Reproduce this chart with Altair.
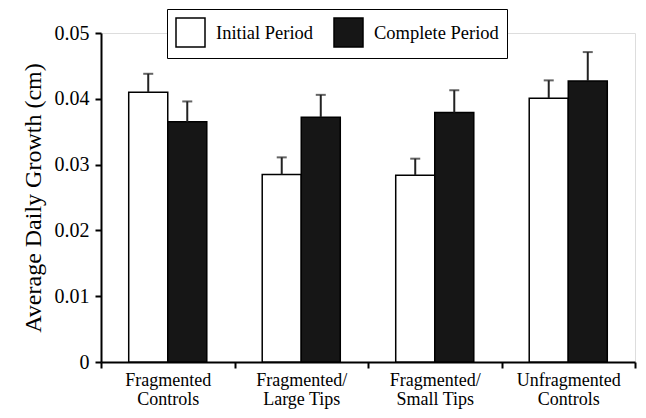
import altair as alt
import pandas as pd

groups = ["Fragmented\nControls", "Fragmented/\nLarge Tips", "Fragmented/\nSmall Tips", "Unfragmented\nControls"]
series = ["Initial Period", "Complete Period"]
initial_vals = [0.0410, 0.0285, 0.0284, 0.0401]
initial_err = [0.0028, 0.0026, 0.0025, 0.0027]
complete_vals = [0.0365, 0.0372, 0.0379, 0.0427]
complete_err = [0.0031, 0.0034, 0.0034, 0.0044]
y_ticks = [0, 0.005, 0.01, 0.015, 0.02, 0.025, 0.03, 0.035, 0.04, 0.045, 0.05]

rows = []
for g, v, e in zip(groups, initial_vals, initial_err):
    rows.append({"group": g, "series": series[0], "value": v, "upper": v + e})
for g, v, e in zip(groups, complete_vals, complete_err):
    rows.append({"group": g, "series": series[1], "value": v, "upper": v + e})
df = pd.DataFrame(rows)

FONT = "Liberation Serif"

x_enc = alt.X(
    "group:N",
    sort=groups,
    scale=alt.Scale(paddingInner=0, paddingOuter=0),
    axis=alt.Axis(
        title=None,
        labelAngle=0,
        labelExpr="split(datum.label, '\\n')",
        labelFont=FONT,
        labelFontSize=18,
        labelColor="black",
        labelLineHeight=19,
        labelPadding=3,
        tickBand="extent",
        tickSize=6,
        tickWidth=2,
        tickColor="black",
        domainColor="black",
        domainWidth=2,
    ),
)
xoff = alt.XOffset(
    "series:N",
    sort=series,
    scale=alt.Scale(domain=series, paddingInner=0, paddingOuter=0.71),
)
y_scale = alt.Scale(domain=[0, 0.05], nice=False)
y_axis = alt.Axis(
    title="Average Daily Growth (cm)",
    titleFont=FONT,
    titleFontSize=24,
    titleFontWeight="normal",
    titleColor="black",
    titlePadding=9,
    values=y_ticks,
    labelExpr="round(datum.value*1000) % 10 == 0 ? (datum.value == 0 ? '0' : format(datum.value, '.2f')) : ''",
    labelFont=FONT,
    labelFontSize=20,
    labelColor="black",
    labelPadding=6,
    tickSize=6,
    tickWidth=2,
    tickColor="black",
    domainColor="black",
    domainWidth=2,
    grid=False,
)

base = alt.Chart(df)

bars = base.mark_bar(stroke="black", strokeWidth=1.5).encode(
    x=x_enc,
    xOffset=xoff,
    y=alt.Y("value:Q", scale=y_scale, axis=y_axis),
    fill=alt.Fill(
        "series:N",
        sort=series,
        scale=alt.Scale(domain=series, range=["white", "#161616"]),
        legend=alt.Legend(
            title=None,
            orient="none",
            direction="horizontal",
            columns=2,
            legendX=66,
            legendY=-24,
            padding=8,
            strokeColor="black",
            fillColor="white",
            symbolType="square",
            symbolSize=841,
            symbolStrokeColor="black",
            symbolStrokeWidth=1.5,
            labelFont=FONT,
            labelFontSize=18.5,
            labelColor="black",
            labelOffset=10,
            columnPadding=17,
        ),
    ),
)

err = base.mark_rule(color="#222222", strokeWidth=2).encode(
    x=alt.X("group:N", sort=groups),
    xOffset=xoff,
    y=alt.Y("value:Q", scale=y_scale),
    y2="upper:Q",
)

caps = base.mark_tick(color="#222222", size=10, thickness=2).encode(
    x=alt.X("group:N", sort=groups),
    xOffset=xoff,
    y=alt.Y("upper:Q", scale=y_scale),
)

chart = (
    alt.layer(bars, err, caps)
    .properties(
        width=534,
        height=329,
        autosize=alt.AutoSizeParams(type="none"),
        padding={"left": 93, "top": 25, "right": 3, "bottom": 48},
    )
    .configure_view(stroke=None)
    .configure_legend(strokeWidth=1.5)
    .configure(background="white")
)

chart.save("out.html", embed_options={"renderer": "svg", "actions": False})
